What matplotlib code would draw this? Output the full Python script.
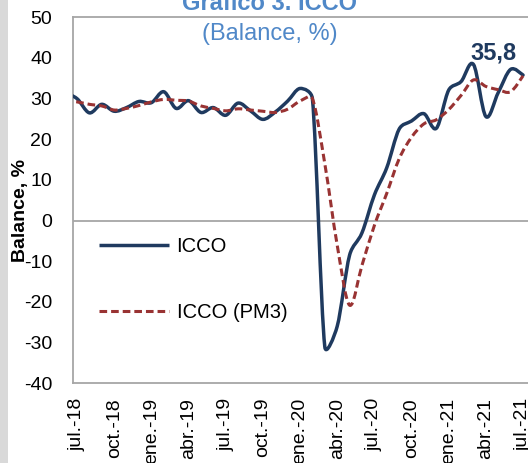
import numpy as np
import matplotlib
matplotlib.use("Agg")
import matplotlib.pyplot as plt
from matplotlib.path import Path
from matplotlib.patches import PathPatch, Rectangle
from matplotlib.lines import Line2D

plt.rcParams['font.family'] = ['Liberation Sans', 'DejaVu Sans']

# ---- data (monthly, jun.-18 ... jul.-21) ----
months = ['jun.-18', 'jul.-18', 'ago.-18', 'sep.-18', 'oct.-18', 'nov.-18', 'dic.-18',
          'ene.-19', 'feb.-19', 'mar.-19', 'abr.-19', 'may.-19', 'jun.-19', 'jul.-19',
          'ago.-19', 'sep.-19', 'oct.-19', 'nov.-19', 'dic.-19', 'ene.-20', 'feb.-20',
          'mar.-20', 'abr.-20', 'may.-20', 'jun.-20', 'jul.-20', 'ago.-20', 'sep.-20',
          'oct.-20', 'nov.-20', 'dic.-20', 'ene.-21', 'feb.-21', 'mar.-21', 'abr.-21',
          'may.-21', 'jun.-21', 'jul.-21']
icco = [31.5, 30.0, 26.5, 28.6, 26.9, 27.8, 29.3, 29.0, 31.7, 27.6, 29.5, 26.6,
        27.8, 25.9, 28.9, 27.0, 24.9, 26.7, 29.4, 32.5, 30.0, -31.0, -26.0, -8.5,
        -3.0, 6.3, 13.0, 22.5, 24.5, 26.3, 22.7, 32.1, 34.2, 38.4, 25.6, 31.5,
        37.2, 35.8]
icco_pm3 = [29.5, 29.2, 28.6, 28.2, 27.2, 27.6, 28.3, 29.2, 29.8, 29.6, 29.4, 28.2,
            27.6, 27.0, 27.5, 27.2, 26.9, 26.6, 27.4, 29.4, 30.0, 14.0, -6.0, -20.8,
            -11.0, -1.2, 6.7, 15.2, 20.5, 23.8, 24.8, 27.3, 30.8, 34.6, 33.0, 32.2,
            31.7, 35.6]
tick_labels = ['jul.-18', 'oct.-18', 'ene.-19', 'abr.-19', 'jul.-19', 'oct.-19',
               'ene.-20', 'abr.-20', 'jul.-20', 'oct.-20', 'ene.-21', 'abr.-21', 'jul.-21']

BLUE = '#1f3a5f'
RED = '#993333'
GRAY = '#a6a6a6'
TITLE_C = '#5088c8'

W, H = 528, 463
fig = plt.figure(figsize=(W / 100, H / 100), dpi=100)
fig.patch.set_facecolor('white')
fig.add_artist(Rectangle((0, 0), 8 / W, 1, transform=fig.transFigure,
                         facecolor='#d9d9d9', edgecolor='none', zorder=0))

ax_left, ax_right = 73, 528
ax_top, ax_bot = 17.3, 383.3
ax = fig.add_axes([ax_left / W, (H - ax_bot) / H, (ax_right - ax_left) / W,
                   (ax_bot - ax_top) / H])

x = np.arange(len(months)) - months.index('jul.-18')
px_per_month = 12.39
px_per_unit = (ax_bot - ax_top) / 90.0
x_first_px = 77
ax.set_xlim((ax_left - x_first_px) / px_per_month, (ax_right - x_first_px) / px_per_month)
ax.set_ylim(-40, 50)


def smooth_path(xs, ys, sx, sy, k=1 / 6, cap=0.45):
    """Smoothed line (Catmull-Rom style cubic Bezier through the points),
    with control offsets limited relative to each segment's on-screen length."""
    P = np.column_stack([np.asarray(xs, float) * sx, np.asarray(ys, float) * sy])
    n = len(P)
    verts = [P[0]]
    codes = [Path.MOVETO]
    for i in range(n - 1):
        p0, p1 = P[max(i - 1, 0)], P[i]
        p2, p3 = P[i + 1], P[min(i + 2, n - 1)]
        L = np.linalg.norm(p2 - p1)
        o1 = (p2 - p0) * k
        o2 = (p3 - p1) * k
        for o in (o1, o2):
            m = np.linalg.norm(o)
            if m > cap * L:
                o *= cap * L / m
        verts += [p1 + o1, p2 - o2, p2]
        codes += [Path.CURVE4] * 3
    verts = np.array(verts) / np.array([sx, sy])
    return Path(verts, codes)


ax.axhline(0, color=GRAY, lw=1.3, zorder=1)
ax.add_patch(PathPatch(smooth_path(x, icco, px_per_month, px_per_unit), fill=False,
                       edgecolor=BLUE, lw=2.5, capstyle='round', joinstyle='round',
                       zorder=3))
red_ls = (0, (2.5, 1.3))
ax.add_patch(PathPatch(smooth_path(x, icco_pm3, px_per_month, px_per_unit), fill=False,
                       edgecolor=RED, lw=2.2, linestyle=red_ls, capstyle='butt',
                       joinstyle='round', zorder=4))

for s in ['left', 'bottom', 'top']:
    ax.spines[s].set_color(GRAY)
    ax.spines[s].set_linewidth(1.3)
ax.spines['right'].set_visible(False)

tick_pos = [x[months.index(t)] for t in tick_labels]
ax.set_xticks(tick_pos)
ax.set_xticklabels(tick_labels, rotation=90, fontsize=14)
ax.set_yticks(np.arange(-40, 51, 10))
ax.set_yticklabels([str(v) for v in range(-40, 51, 10)], fontsize=14)
ax.tick_params(axis='x', length=0, pad=10.5)
ax.tick_params(axis='y', length=0, pad=15)

handles = [Line2D([], [], color=BLUE, lw=2.5, solid_capstyle='butt'),
           Line2D([], [], color=RED, lw=2.2, linestyle=red_ls, dash_capstyle='butt')]
leg = ax.legend(handles, ['ICCO', 'ICCO (PM3)'], loc='upper left',
                bbox_to_anchor=(99 / W, 1 - 237 / H), bbox_transform=fig.transFigure,
                frameon=False, fontsize=14.5, handlelength=3.5, handletextpad=0.35,
                labelspacing=2.35, borderpad=0, borderaxespad=0)

last_lbl = f"{icco[-1]:.1f}".replace('.', ',')
ax.annotate(last_lbl, xy=(x[-1], icco[-1]), xytext=(-21.6, 11.5),
            textcoords='offset points', ha='center', va='baseline',
            fontsize=17, fontweight='bold', color=BLUE, annotation_clip=False)

fig.text(270 / W, 1 - 10 / H, 'Gráfico 3. ICCO', ha='center', va='baseline',
         fontsize=17, fontweight='bold', color=TITLE_C)
fig.text(270 / W, 1 - 40 / H, '(Balance, %)', ha='center', va='baseline',
         fontsize=17, color=TITLE_C)
fig.text(21 / W, 1 - 211 / H, 'Balance, %', rotation=90, ha='center', va='center',
         fontsize=14, fontweight='bold')

fig.savefig('out.png', dpi=100)
